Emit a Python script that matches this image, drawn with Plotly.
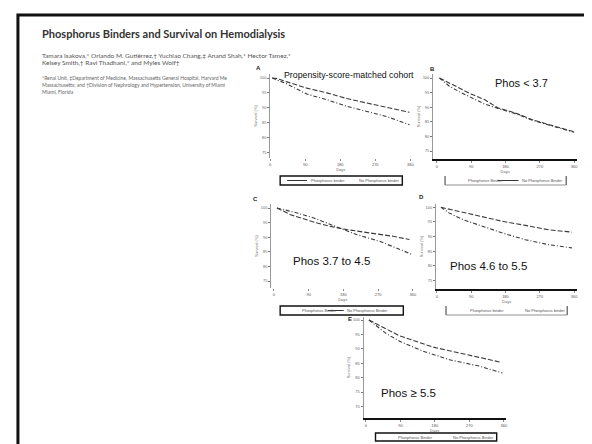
import plotly.graph_objects as go

W, H = 592, 444

# ---------------- data ----------------
day_ticks = [0, 90, 180, 270, 360]
day_labels = ["0", "90", "180", "270", "360"]
surv_ticks = [75, 80, 85, 90, 95, 100]
surv_ticks_e = [70, 75, 80, 85, 90, 95, 100]

title_text = "Phosphorus Binders and Survival on Hemodialysis"
author_lines = [
    "Tamara Isakova,* Orlando M. Gutiérrez,† Yuchiao Chang,‡ Anand Shah,* Hector Tamez,*",
    "Kelsey Smith,† Ravi Thadhani,* and Myles Wolf†",
]
affil_lines = [
    "*Renal Unit, ‡Department of Medicine, Massachusetts General Hospital, Harvard Me",
    "Massachusetts; and †Division of Nephrology and Hypertension, University of Miami",
    "Miami, Florida",
]
panel_letters = ["A", "B", "C", "D", "E"]
panel_notes = ["Propensity-score-matched cohort", "Phos < 3.7", "Phos 3.7 to 4.5",
               "Phos 4.6 to 5.5", "Phos ≥ 5.5"]
legend_a = ["Phosphorus binder", "No Phosphorus binder"]
legend_b = ["Phosphorus Binder", "No Phosphorus Binder"]

# Panel A
a_days = [5, 18, 43, 94, 146, 197, 248, 299, 358]
a_binder = [100, 99.8, 98.7, 96.6, 95.0, 93.1, 91.6, 90.2, 88.5]
a_nobinder = [100, 99.4, 98.0, 94.6, 92.7, 90.5, 88.8, 87.1, 84.3]
# Panel B
b_days = [7, 33, 59, 90, 125, 160, 206, 249, 292, 327, 360]
b_binder = [100, 98.3, 96.6, 94.5, 92.6, 89.8, 88.0, 85.8, 84.1, 82.9, 81.6]
b_nobinder = [100, 97.2, 95.3, 93.2, 91.1, 89.6, 87.8, 85.6, 83.9, 82.7, 81.4]
# Panel C
c_days_1 = [8, 43, 103, 146, 189, 257, 309, 351]
c_binder = [100, 97.7, 95.2, 93.7, 92.6, 91.4, 90.3, 89.2]
c_days_2 = [8, 60, 103, 137, 163, 214, 274, 317, 356]
c_nobinder = [100, 98.3, 96.6, 94.9, 93.4, 90.9, 88.6, 86.3, 84.2]
# Panel D
d_days_1 = [11, 59, 120, 172, 232, 293, 354]
d_binder = [100, 98.6, 96.6, 95.2, 93.8, 92.3, 91.5]
d_days_2 = [11, 33, 68, 120, 172, 232, 293, 354]
d_nobinder = [100, 98.0, 95.8, 93.5, 91.2, 88.9, 87.2, 86.1]
# Panel E
e_days_1 = [8, 45, 88, 175, 269, 330, 350]
e_binder = [100, 97.5, 94.5, 90.6, 87.8, 86.0, 85.4]
e_days_2 = [8, 36, 54, 88, 149, 218, 295, 356]
e_nobinder = [100, 97.0, 95.2, 92.6, 89.2, 86.2, 84.0, 81.6]

series = [
    (a_days, a_binder, a_days, a_nobinder),
    (b_days, b_binder, b_days, b_nobinder),
    (c_days_1, c_binder, c_days_2, c_nobinder),
    (d_days_1, d_binder, d_days_2, d_nobinder),
    (e_days_1, e_binder, e_days_2, e_nobinder),
]

# ---------------- geometry (pixels) ----------------
def px(x):
    return x / W

def py(y):
    return 1 - y / H

# left, right, day0 px, day360 px, y100 px, px per 5%, bottom px, top px
geo = [
    dict(l=263, r=405, d0=263, d360=404, y100=70, s=14.9, b=150, t=66, xline=False),
    dict(l=427, r=572, d0=430.7, d360=569, y100=70, s=14.6, b=151, t=66, xline=True),
    dict(l=264, r=408, d0=266.7, d360=406.7, y100=200, s=14.6, b=280, t=196, xline=False),
    dict(l=430, r=572, d0=430.7, d360=569, y100=199.3, s=14.6, b=281, t=196, xline=True),
    dict(l=357, r=500, d0=359.3, d360=498.3, y100=312, s=14.4, b=410, t=309, xline=True),
]

fig = go.Figure()
layout_axes = {}
annotations = []
shapes = []

for i, g in enumerate(geo):
    k = i + 1
    xa = "xaxis" if k == 1 else f"xaxis{k}"
    ya = "yaxis" if k == 1 else f"yaxis{k}"
    xr = "x" if k == 1 else f"x{k}"
    yr = "y" if k == 1 else f"y{k}"
    ppd = (g["d360"] - g["d0"]) / 360.0
    xmin = (g["l"] - g["d0"]) / ppd
    xmax = (g["r"] - g["d0"]) / ppd
    ymin = 100 - (g["b"] - g["y100"]) / g["s"] * 5
    ymax = 100 + (g["y100"] - g["t"]) / g["s"] * 5
    layout_axes[xa] = dict(
        domain=[px(g["l"]), px(g["r"])], range=[xmin, xmax], anchor=yr,
        showgrid=False, zeroline=False,
        showline=g["xline"], linecolor="#111", linewidth=2.2 if g["xline"] else 0,
        ticks="outside", ticklen=2, tickcolor="#888", tickwidth=1,
        tickvals=day_ticks, ticktext=day_labels,
        tickfont=dict(size=4, color="#555", family="Liberation Sans"),
        title=dict(text="Days", font=dict(size=4, color="#666", family="Liberation Sans"), standoff=1),
        fixedrange=True,
    )
    layout_axes[ya] = dict(
        domain=[py(g["b"]), py(g["t"])], range=[ymin, ymax], anchor=xr,
        showgrid=False, zeroline=False,
        showline=True, linecolor="#999", linewidth=1,
        ticks="outside", ticklen=2, tickcolor="#777", tickwidth=1,
        tickvals=surv_ticks_e if k == 5 else surv_ticks,
        tickfont=dict(size=4, color="#666", family="Liberation Sans"),
        title=dict(text="Survival (%)", font=dict(size=4, color="#777", family="Liberation Sans"), standoff=2),
        fixedrange=True,
    )
    x1, y1, x2, y2 = series[i]
    fig.add_trace(go.Scatter(x=x1, y=y1, xaxis=xr, yaxis=yr, mode="lines",
                             line=dict(color="#3a3a3a", width=1.1, dash="5px,2px"),
                             showlegend=False, hoverinfo="skip"))
    fig.add_trace(go.Scatter(x=x2, y=y2, xaxis=xr, yaxis=yr, mode="lines",
                             line=dict(color="#3a3a3a", width=1.1, dash="4px,2px,1px,2px"),
                             showlegend=False, hoverinfo="skip"))

# panel letters
letter_pos = [(251, 60), (426, 61), (248, 191), (415, 189), (343, 311)]
for (lx, ly), t in zip(letter_pos, panel_letters):
    annotations.append(dict(x=px(lx), y=py(ly), xref="paper", yref="paper", text=f"<b>{t}</b>",
                            showarrow=False, xanchor="center", yanchor="middle",
                            font=dict(size=6, color="#222", family="Liberation Sans")))

# panel notes
note_pos = [(275, 67, 8.8), (487, 75, 11), (284, 253, 11.5), (442, 258, 11.5), (373, 385, 11.5)]
for (nx, ny, fs), t in zip(note_pos, panel_notes):
    annotations.append(dict(x=px(nx), y=py(ny), xref="paper", yref="paper", text=t,
                            showarrow=False, xanchor="left", yanchor="middle",
                            font=dict(size=fs, color="#111", family="Liberation Sans")))

# legend boxes
leg_geo = [
    dict(x0=273, x1=396, y0=168, y1=177, labels=legend_a, t1=302, t2=350, line=(280, 300), full=True),
    dict(x0=439, x1=561, y0=168, y1=177, labels=legend_b, t1=460, t2=514, line=(492, 513), full=False),
    dict(x0=273, x1=397, y0=298, y1=307, labels=legend_b, t1=293, t2=338, line=(321, 337), full=True),
    dict(x0=440, x1=562, y0=298, y1=307, labels=legend_a, t1=462, t2=517, line=None, full=False),
    dict(x0=369, x1=491, y0=425, y1=433, labels=legend_b, t1=390, t2=445, line=None, full=True),
]
for lg in leg_geo:
    if lg["full"]:
        shapes.append(dict(type="rect", xref="paper", yref="paper",
                           x0=px(lg["x0"]), x1=px(lg["x1"]), y0=py(lg["y1"]), y1=py(lg["y0"]),
                           line=dict(color="#111", width=1.4)))
    else:
        for xx in (lg["x0"], lg["x1"]):
            shapes.append(dict(type="line", xref="paper", yref="paper",
                               x0=px(xx), x1=px(xx), y0=py(lg["y1"]), y1=py(lg["y0"]),
                               line=dict(color="#555", width=1.2)))
        shapes.append(dict(type="line", xref="paper", yref="paper",
                           x0=px(lg["x0"]), x1=px(lg["x1"]), y0=py(lg["y1"]), y1=py(lg["y1"]),
                           line=dict(color="#777", width=0.8)))
    ym = (lg["y0"] + lg["y1"]) / 2
    if lg["line"]:
        shapes.append(dict(type="line", xref="paper", yref="paper",
                           x0=px(lg["line"][0]), x1=px(lg["line"][1]), y0=py(ym), y1=py(ym),
                           line=dict(color="#333", width=1)))
    for tx, lab in zip((lg["t1"], lg["t2"]), lg["labels"]):
        annotations.append(dict(x=px(tx), y=py(ym), xref="paper", yref="paper", text=lab,
                                showarrow=False, xanchor="left", yanchor="middle",
                                font=dict(size=4, color="#555", family="Liberation Sans")))

# header text
annotations.append(dict(x=px(31), y=py(26), xref="paper", yref="paper", text=f"<b>{title_text}</b>",
                        showarrow=False, xanchor="left", yanchor="middle",
                        font=dict(size=11, color="#333", family="Lato")))
for j, line in enumerate(author_lines):
    annotations.append(dict(x=px(31), y=py(47 + 7.5 * j), xref="paper", yref="paper", text=line,
                            showarrow=False, xanchor="left", yanchor="middle",
                            font=dict(size=6.5, color="#555", family="Lato")))
for j, line in enumerate(affil_lines):
    annotations.append(dict(x=px(31), y=py(70 + 7 * j), xref="paper", yref="paper", text=line,
                            showarrow=False, xanchor="left", yanchor="middle",
                            font=dict(size=5.0, color="#666", family="Lato")))

# slide frame
shapes.append(dict(type="rect", xref="paper", yref="paper",
                   x0=px(9), x1=px(590), y0=py(452), y1=py(7),
                   line=dict(color="#111", width=3)))

fig.update_layout(
    width=W, height=H, margin=dict(l=0, r=0, t=0, b=0),
    paper_bgcolor="white", plot_bgcolor="rgba(0,0,0,0)",
    showlegend=False, annotations=annotations, shapes=shapes,
    **layout_axes,
)

fig.write_html("out.html", config={"displayModeBar": False})
